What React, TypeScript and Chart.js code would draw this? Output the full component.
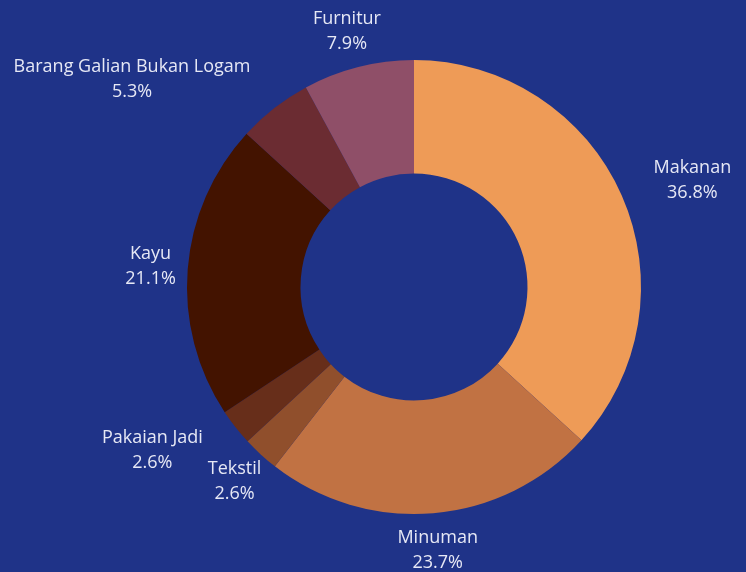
import React, { useEffect, useRef } from "react";
import { Chart, registerables } from "chart.js";

Chart.register(...registerables);

const categories = ["Makanan", "Minuman", "Tekstil", "Pakaian Jadi", "Kayu", "Barang Galian Bukan Logam", "Furnitur"];
const values = [36.8, 23.7, 2.6, 2.6, 21.1, 5.3, 7.9];
const percentLabels = ["36.8%", "23.7%", "2.6%", "2.6%", "21.1%", "5.3%", "7.9%"];
const sliceColors = ["#EE9B57", "#C17243", "#904F2C", "#672E1A", "#431300", "#6B2C32", "#8F4F68"];
// horizontal nudges for labels to avoid overlap (px)
const labelNudgeX = [24, 0, 0, -34, 0, -62, 0];

const BG = "#1F3388";
const TEXT = "#E6E8F5";
const FONT = "18px 'Open Sans', sans-serif";

const labelPlugin = {
  id: "outerLabels",
  afterDatasetsDraw(chart: any) {
    const ctx = chart.ctx;
    const meta = chart.getDatasetMeta(0);
    ctx.save();
    ctx.font = FONT;
    ctx.fillStyle = TEXT;
    ctx.textAlign = "center";
    ctx.textBaseline = "middle";
    const lineH = 25;
    meta.data.forEach((arc: any, i: number) => {
      const { x, y, startAngle, endAngle, outerRadius } = arc.getProps(["x", "y", "startAngle", "endAngle", "outerRadius"], true);
      const mid = (startAngle + endAngle) / 2;
      const dx = Math.cos(mid);
      const dy = Math.sin(mid);
      const gap = 12;
      const lines = [categories[i], percentLabels[i]];
      const w = Math.max(...lines.map((t) => ctx.measureText(t).width));
      const h = lineH * 2;
      const ax = x + dx * (outerRadius + gap);
      const ay = y + dy * (outerRadius + gap);
      const cx = ax + dx * (w / 2) + labelNudgeX[i];
      const cy = ay + dy * (h / 2);
      ctx.fillText(lines[0], cx, cy - lineH / 2);
      ctx.fillText(lines[1], cx, cy + lineH / 2);
    });
    ctx.restore();
  },
};

export default function App() {
  const ref = useRef<HTMLCanvasElement>(null);
  useEffect(() => {
    document.body.style.margin = "0";
    document.body.style.background = BG;
    const chart = new Chart(ref.current as HTMLCanvasElement, {
      type: "doughnut",
      data: {
        labels: categories,
        datasets: [
          {
            data: values,
            backgroundColor: sliceColors,
            borderWidth: 0,
          },
        ],
      },
      options: {
        responsive: false,
        animation: false,
        cutout: "50%",
        layout: { padding: { left: 187, right: 105, top: 60, bottom: 58 } },
        plugins: { legend: { display: false }, tooltip: { enabled: false } },
      },
      plugins: [labelPlugin],
    });
    return () => chart.destroy();
  }, []);
  return (
    <div style={{ position: "fixed", left: 0, top: 0, width: 746, height: 572, background: BG }}>
      <canvas ref={ref} width={746} height={572} style={{ width: 746, height: 572 }} />
    </div>
  );
}
